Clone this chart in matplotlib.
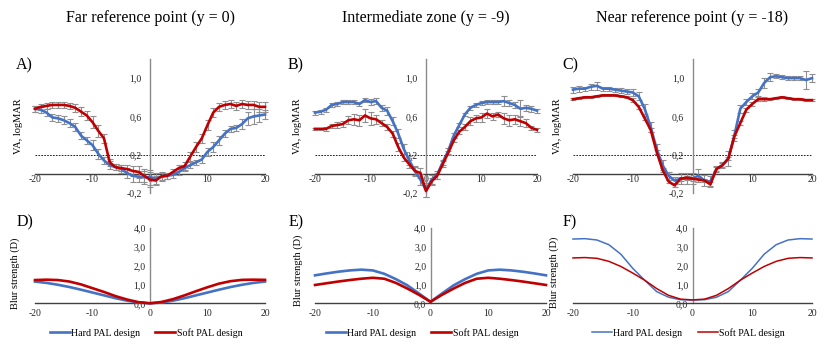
"""
Agudeza visual (VA) y fuerza de desenfoque para dos diseños PAL
en tres zonas de la lente.
"""

import matplotlib
matplotlib.use("Agg")
import matplotlib.pyplot as plt
from matplotlib.lines import Line2D

plt.rcParams["font.family"] = ["Liberation Serif", "DejaVu Serif"]

# Posición horizontal (grados) para las curvas de VA
x_va = list(range(-20, 21))

# Panel A - punto de referencia lejano (y = 0)
va_far_hard = [0.68, 0.67, 0.64, 0.59, 0.58, 0.56, 0.53, 0.49, 0.40, 0.35, 0.30,
               0.21, 0.14, 0.09, 0.07, 0.05, 0.01, -0.02, -0.03, -0.035, -0.035,
               -0.05, -0.03, -0.02, -0.01, 0.02, 0.06, 0.09, 0.12, 0.15, 0.23,
               0.28, 0.35, 0.42, 0.47, 0.48, 0.52, 0.58, 0.60, 0.61, 0.62]
va_far_hard_err = [0.03, 0.03, 0.04, 0.04, 0.04, 0.04, 0.04, 0.04, 0.04, 0.04, 0.05,
                   0.05, 0.04, 0.04, 0.03, 0.04, 0.05, 0.06, 0.06, 0.07, 0.08,
                   0.06, 0.04, 0.03, 0.03, 0.03, 0.03, 0.03, 0.03, 0.04, 0.04,
                   0.05, 0.05, 0.04, 0.03, 0.03, 0.05, 0.07, 0.08, 0.07, 0.05]
va_far_soft = [0.68, 0.70, 0.71, 0.72, 0.72, 0.72, 0.71, 0.69, 0.65, 0.61, 0.54,
               0.45, 0.37, 0.12, 0.07, 0.06, 0.05, 0.03, 0.02, -0.02, -0.06,
               -0.07, -0.025, -0.02, 0.02, 0.06, 0.08, 0.18, 0.28, 0.37, 0.51,
               0.64, 0.70, 0.72, 0.73, 0.71, 0.73, 0.72, 0.72, 0.70, 0.70]
va_far_soft_err = [0.03, 0.03, 0.03, 0.03, 0.03, 0.03, 0.03, 0.04, 0.05, 0.05, 0.06,
                   0.06, 0.05, 0.04, 0.03, 0.03, 0.04, 0.05, 0.06, 0.07, 0.08,
                   0.05, 0.04, 0.03, 0.03, 0.03, 0.04, 0.05, 0.05, 0.05, 0.05,
                   0.05, 0.04, 0.04, 0.04, 0.04, 0.04, 0.04, 0.04, 0.05, 0.05]

# Panel B - zona intermedia (y = -9)
va_mid_hard = [0.64, 0.65, 0.67, 0.72, 0.73, 0.75, 0.75, 0.75, 0.73, 0.77, 0.75,
               0.76, 0.69, 0.66, 0.55, 0.42, 0.26, 0.14, 0.03, -0.06, -0.17,
               -0.06, -0.01, 0.12, 0.24, 0.40, 0.51, 0.62, 0.69, 0.72, 0.74,
               0.75, 0.75, 0.75, 0.76, 0.74, 0.72, 0.68, 0.69, 0.68, 0.66]
va_mid_hard_err = [0.02, 0.02, 0.02, 0.02, 0.02, 0.02, 0.02, 0.02, 0.02, 0.02, 0.03,
                   0.03, 0.03, 0.04, 0.04, 0.05, 0.05, 0.05, 0.05, 0.06, 0.07,
                   0.05, 0.04, 0.03, 0.03, 0.03, 0.02, 0.02, 0.02, 0.02, 0.02,
                   0.02, 0.02, 0.02, 0.05, 0.03, 0.03, 0.09, 0.03, 0.03, 0.02]
va_mid_soft = [0.47, 0.47, 0.47, 0.50, 0.51, 0.52, 0.56, 0.57, 0.56, 0.61, 0.58,
               0.57, 0.53, 0.49, 0.42, 0.28, 0.17, 0.10, 0.03, 0.01, -0.18,
               -0.08, -0.02, 0.10, 0.22, 0.35, 0.44, 0.49, 0.55, 0.58, 0.59,
               0.63, 0.60, 0.62, 0.58, 0.56, 0.57, 0.55, 0.53, 0.48, 0.46]
va_mid_soft_err = [0.01, 0.01, 0.02, 0.02, 0.03, 0.03, 0.04, 0.06, 0.06, 0.07, 0.07,
                   0.05, 0.03, 0.03, 0.03, 0.04, 0.04, 0.04, 0.04, 0.05, 0.06,
                   0.04, 0.03, 0.03, 0.02, 0.02, 0.02, 0.03, 0.04, 0.04, 0.05,
                   0.05, 0.04, 0.03, 0.06, 0.06, 0.05, 0.05, 0.04, 0.02, 0.02]

# Panel C - punto de referencia cercano (y = -18)
va_near_hard = [0.88, 0.89, 0.89, 0.91, 0.92, 0.89, 0.89, 0.88, 0.87, 0.86, 0.85,
                0.81, 0.68, 0.49, 0.26, 0.09, -0.02, -0.07, -0.05, -0.05, -0.05,
                -0.02, -0.07, -0.08, 0.05, 0.09, 0.16, 0.40, 0.68, 0.75, 0.81,
                0.85, 0.95, 1.01, 1.02, 1.01, 1.00, 1.00, 1.00, 0.98, 1.00]
va_near_hard_err = [0.03, 0.03, 0.02, 0.03, 0.04, 0.02, 0.02, 0.02, 0.03, 0.03, 0.04,
                    0.04, 0.05, 0.05, 0.05, 0.05, 0.04, 0.04, 0.06, 0.06, 0.06,
                    0.07, 0.06, 0.06, 0.03, 0.03, 0.08, 0.06, 0.04, 0.03, 0.03,
                    0.04, 0.05, 0.04, 0.02, 0.02, 0.02, 0.02, 0.02, 0.09, 0.04]
va_near_soft = [0.78, 0.79, 0.80, 0.80, 0.81, 0.82, 0.82, 0.82, 0.81, 0.80, 0.77,
                0.70, 0.58, 0.46, 0.23, 0.04, -0.08, -0.12, -0.05, -0.04, -0.05,
                -0.06, -0.07, -0.11, 0.05, 0.09, 0.16, 0.39, 0.53, 0.67, 0.73,
                0.78, 0.78, 0.78, 0.79, 0.80, 0.79, 0.78, 0.78, 0.77, 0.77]
va_near_soft_err = [0.01, 0.01, 0.01, 0.01, 0.01, 0.01, 0.01, 0.01, 0.01, 0.01, 0.02,
                    0.02, 0.02, 0.02, 0.02, 0.02, 0.02, 0.02, 0.02, 0.02, 0.02,
                    0.02, 0.02, 0.02, 0.02, 0.02, 0.02, 0.02, 0.02, 0.02, 0.02,
                    0.02, 0.02, 0.01, 0.01, 0.01, 0.01, 0.01, 0.01, 0.01, 0.01]

# Fuerza de desenfoque (D), muestreada cada 2 grados
x_blur = list(range(-20, 21, 2))
blur_far_hard = [1.15, 1.08, 0.98, 0.86, 0.72, 0.57, 0.42, 0.27, 0.14, 0.04, 0.0,
                 0.04, 0.14, 0.27, 0.42, 0.57, 0.72, 0.86, 0.98, 1.08, 1.15]
blur_far_soft = [1.23, 1.25, 1.23, 1.15, 1.00, 0.80, 0.60, 0.38, 0.20, 0.06, 0.0,
                 0.07, 0.22, 0.42, 0.64, 0.85, 1.04, 1.17, 1.24, 1.25, 1.24]
blur_mid_hard = [1.48, 1.58, 1.67, 1.74, 1.78, 1.74, 1.56, 1.28, 0.95, 0.52, 0.08,
                 0.52, 0.95, 1.28, 1.56, 1.74, 1.78, 1.74, 1.67, 1.58, 1.48]
blur_mid_soft = [0.97, 1.06, 1.15, 1.23, 1.30, 1.35, 1.30, 1.08, 0.78, 0.45, 0.08,
                 0.45, 0.78, 1.08, 1.30, 1.35, 1.30, 1.23, 1.15, 1.06, 0.97]
blur_near_hard = [3.40, 3.42, 3.35, 3.10, 2.60, 1.85, 1.22, 0.62, 0.32, 0.19, 0.17,
                  0.19, 0.32, 0.62, 1.22, 1.85, 2.60, 3.10, 3.35, 3.42, 3.40]
blur_near_soft = [2.40, 2.42, 2.38, 2.22, 1.95, 1.60, 1.22, 0.78, 0.42, 0.22, 0.18,
                  0.22, 0.42, 0.78, 1.22, 1.60, 1.95, 2.22, 2.38, 2.42, 2.40]

panel_titles = ["Far reference point (y = 0)", "Intermediate zone (y = -9)",
                "Near reference point (y = -18)"]
x_ticks = [-20, -10, 0, 10, 20]
x_ticklabels = ["-20", "-10", "0", "10", "20"]
va_ticks = [-0.2, 0.2, 0.6, 1.0]
va_ticklabels = ["-0,2", "0,2", "0,6", "1,0"]
blur_ticks = [0, 1, 2, 3, 4]
blur_ticklabels = ["0,0", "1,0", "2,0", "3,0", "4,0"]

BLUE = "#4472C4"
RED = "#C00000"
ERR = "#8f8f8f"
W, H = 830, 358


def px_axes(fig, left, right, top, bottom):
    """Crea ejes a partir de coordenadas en píxeles."""
    return fig.add_axes([left / W, 1 - bottom / H, (right - left) / W, (bottom - top) / H])


def style_axes(ax, yticks, yticklabels, ypad, xpad):
    # Ejes al estilo Excel: se cruzan en (0, 0)
    for s in ["top", "right"]:
        ax.spines[s].set_visible(False)
    ax.spines["left"].set_position(("data", 0))
    ax.spines["bottom"].set_position(("data", 0))
    ax.spines["left"].set_color("#8a8a8a")
    ax.spines["bottom"].set_color("#404040")
    ax.spines["left"].set_linewidth(1.0)
    ax.spines["bottom"].set_linewidth(1.0)
    ax.set_xlim(-20, 20)
    ax.set_xticks(x_ticks)
    ax.set_xticklabels(x_ticklabels)
    ax.set_yticks(yticks)
    ax.set_yticklabels(yticklabels)
    ax.tick_params(axis="y", length=0, pad=ypad, labelsize=7, labelcolor="#262626")
    ax.tick_params(axis="x", length=0, pad=xpad, labelsize=7, labelcolor="#262626")
    ax.patch.set_visible(False)


fig = plt.figure(figsize=(W / 100, H / 100), dpi=100)

# Filas superiores: VA con barras de error
top_specs = [
    (35, 265, va_far_hard, va_far_hard_err, va_far_soft, va_far_soft_err, "A)", 16, -0.052),
    (315, 537, va_mid_hard, va_mid_hard_err, va_mid_soft, va_mid_soft_err, "B)", 288, -0.059),
    (573, 812, va_near_hard, va_near_hard_err, va_near_soft, va_near_soft_err, "C)", 562, -0.046),
]
for (l, r, hard, hard_err, soft, soft_err, lab, lab_x, ylab_x), title in zip(top_specs, panel_titles):
    ax = px_axes(fig, l, r, 59, 193)
    ax.set_ylim(-0.2, 1.2)
    style_axes(ax, va_ticks, va_ticklabels, ypad=6, xpad=1)
    ax.hlines(0.2, -20, 20, colors="black", linestyles=(0, (2, 1.5)), linewidth=0.6)
    ax.errorbar(x_va, hard, yerr=hard_err, fmt="none", ecolor=ERR, elinewidth=0.8,
                capsize=2, capthick=0.8, clip_on=False, zorder=3)
    ax.errorbar(x_va, soft, yerr=soft_err, fmt="none", ecolor=ERR, elinewidth=0.8,
                capsize=2, capthick=0.8, clip_on=False, zorder=3)
    ax.plot(x_va, hard, color=BLUE, linewidth=1.9, clip_on=False, zorder=4)
    ax.plot(x_va, soft, color=RED, linewidth=1.9, clip_on=False, zorder=5)
    ax.set_ylabel("VA, logMAR", fontsize=7.5)
    ax.yaxis.set_label_coords(ylab_x, 0.5)
    fig.text(lab_x / W, 1 - 65 / H, lab, fontsize=11.5, ha="left", va="center")
    fig.text((l + r) / 2 / W, 1 - 18 / H, title, fontsize=11.5, ha="center", va="center")

# Fila inferior: fuerza de desenfoque
bottom_specs = [
    (35, 265, blur_far_hard, blur_far_soft, "D)", 17, -0.065, 0.40, 0.483, 1.9),
    (315, 546, blur_mid_hard, blur_mid_soft, "E)", 289, -0.052, 0.43, 0.463, 1.9),
    (573, 812, blur_near_hard, blur_near_soft, "F)", 563, -0.059, 0.41, 0.483, 1.1),
]
for l, r, hard, soft, lab, lab_x, ylab_x, ylab_y, leg_x, lw in bottom_specs:
    ax = px_axes(fig, l, r, 227.7, 303.3)
    ax.set_ylim(0, 4)
    style_axes(ax, blur_ticks, blur_ticklabels, ypad=3, xpad=4)
    ax.plot(x_blur, hard, color=BLUE, linewidth=lw, clip_on=False, zorder=4)
    ax.plot(x_blur, soft, color=RED, linewidth=lw, clip_on=False, zorder=5)
    ax.set_ylabel("Blur strength (D)", fontsize=7.5)
    ax.yaxis.set_label_coords(ylab_x, ylab_y)
    fig.text(lab_x / W, 1 - 222 / H, lab, fontsize=11.5, ha="left", va="center")
    handles = [Line2D([], [], color=BLUE, linewidth=lw),
               Line2D([], [], color=RED, linewidth=lw)]
    ax.legend(handles, ["Hard PAL design", "Soft PAL design"], loc="center",
              bbox_to_anchor=(leg_x, -0.393), ncol=2, frameon=False, fontsize=7.2,
              handlelength=2.0, handletextpad=0.15, columnspacing=1.5,
              borderpad=0, borderaxespad=0)

fig.savefig("out.png", dpi=100)
